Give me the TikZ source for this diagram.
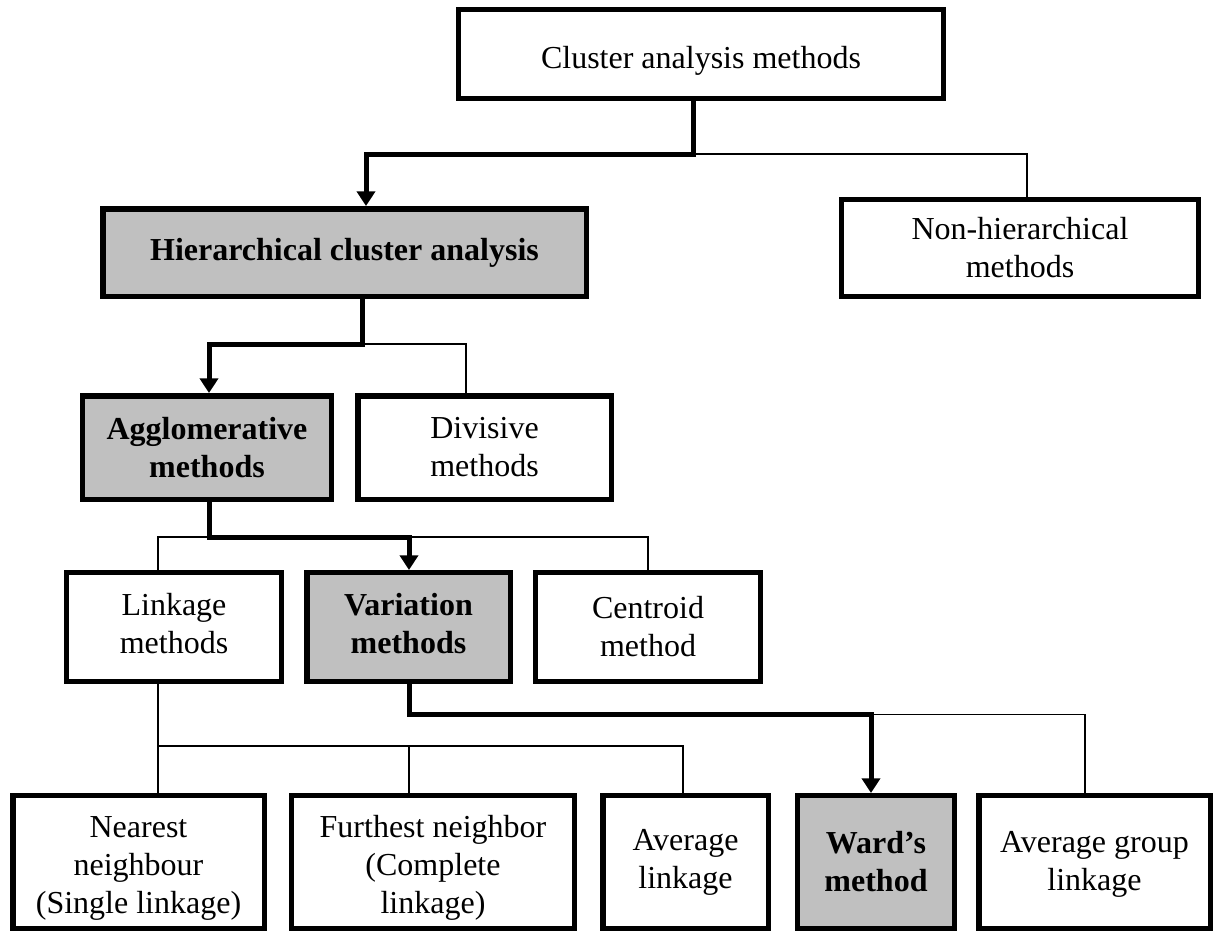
\documentclass[tikz,border=0pt]{standalone}
\usepackage{fontspec}
\setmainfont{Liberation Serif}
\usetikzlibrary{arrows.meta}
\definecolor{boxgray}{HTML}{C0C0C0}
\begin{document}
\begin{tikzpicture}[x=0.75pt,y=-0.75pt,
  box/.style={draw=black, line width=4.1pt, fill=white, rectangle, inner sep=0pt,
    align=center, font=\fontsize{24}{28.5}\selectfont},
  keybox/.style={box, fill=boxgray, font=\fontsize{24}{28.5}\selectfont\bfseries},
  mainline/.style={line width=3.75pt},
  mainarrow/.style={mainline, -{Triangle[length=11pt,width=13.5pt]}},
  sideline/.style={line width=1pt}]
\useasboundingbox (0,0) rectangle (1213,933);

% level 0
\node[box, minimum width=363.4pt, minimum height=66.4pt] (cam) at (701,54) {\rule{0pt}{26.3pt}Cluster analysis methods};
% level 1
\node[keybox, minimum width=362.6pt, minimum height=65.6pt] (hca) at (344.5,252.5) {Hierarchical cluster analysis};
\node[box, minimum width=267.4pt, minimum height=72.4pt] (nhm) at (1020,248) {Non-hierarchical\\methods};
% level 2
\node[keybox, minimum width=186.4pt, minimum height=77.6pt] (agg) at (207,447.5) {Agglomerative\\methods};
\node[box, minimum width=190.1pt, minimum height=77.6pt] (div) at (484.5,447.5) {Divisive\\methods};
% level 3
\node[box, minimum width=160.9pt, minimum height=81.4pt] (lnk) at (174,627) {Linkage\\methods\rule[-6pt]{0pt}{6pt}};
\node[keybox, minimum width=152.6pt, minimum height=81.4pt] (var) at (408.5,627) {Variation\\methods\rule[-6pt]{0pt}{6pt}};
\node[box, minimum width=168.4pt, minimum height=81.4pt] (cen) at (648,627) {Centroid\\method};
% level 4
\node[box, minimum width=188.6pt, minimum height=99.4pt] (nn) at (138.5,862) {\rule{0pt}{25pt}Nearest\\neighbour\\(Single linkage)};
\node[box, minimum width=211.9pt, minimum height=99.4pt] (fn) at (433,862) {\rule{0pt}{25pt}Furthest neighbor\\(Complete\\linkage)};
\node[box, minimum width=124.1pt, minimum height=99.4pt] (al) at (685.5,862) {Average\\linkage};
\node[keybox, minimum width=117.4pt, minimum height=99.4pt] (wm) at (876,862) {Ward’s\\method};
\node[box, minimum width=173.6pt, minimum height=99.4pt] (agl) at (1094.5,862) {\rule{0pt}{19pt}Average group\\linkage};

% branching points
\coordinate (j0) at (693.5,154);
\coordinate (j0l) at (366,154);
\coordinate (j0r) at (1027,154);
\coordinate (j1) at (362,344);
\coordinate (j1l) at (209,344);
\coordinate (j1r) at (466,344);
\coordinate (j2) at (209,537);
\coordinate (j2l) at (158,537);
\coordinate (j2m) at (409,537);
\coordinate (j2r) at (648,537);
\coordinate (j3) at (158,746);
\coordinate (j3m) at (409,746);
\coordinate (j3r) at (683,746);
\coordinate (j4) at (409,714.5);
\coordinate (j4m) at (871,714.5);
\coordinate (j4r) at (1085,714.5);

% cluster analysis methods
\draw[sideline] (j0) -- (j0r) -- (nhm.north -| j0r);
\draw[mainarrow] (cam.south -| j0) -- (j0) -- (j0l) -- (hca.north -| j0l);
% hierarchical cluster analysis
\draw[sideline] (j1) -- (j1r) -- (div.north -| j1r);
\draw[mainarrow] (hca.south -| j1) -- (j1) -- (j1l) -- (agg.north -| j1l);
% agglomerative methods
\draw[sideline] (j2) -- (j2l) -- (lnk.north -| j2l);
\draw[sideline] (j2m) -- (j2r) -- (cen.north -| j2r);
\draw[mainarrow] (agg.south -| j2) -- (j2) -- (j2m) -- (var.north -| j2m);
% linkage methods
\draw[sideline] (lnk.south -| j3) -- (nn.north -| j3);
\draw[sideline] (j3) -- (j3r) -- (al.north -| j3r);
\draw[sideline] (j3m) -- (fn.north -| j3m);
% variation methods
\draw[sideline] (j4m) -- (j4r) -- (agl.north -| j4r);
\draw[mainarrow] (var.south -| j4) -- (j4) -- (j4m) -- (wm.north -| j4m);
\end{tikzpicture}
\end{document}
